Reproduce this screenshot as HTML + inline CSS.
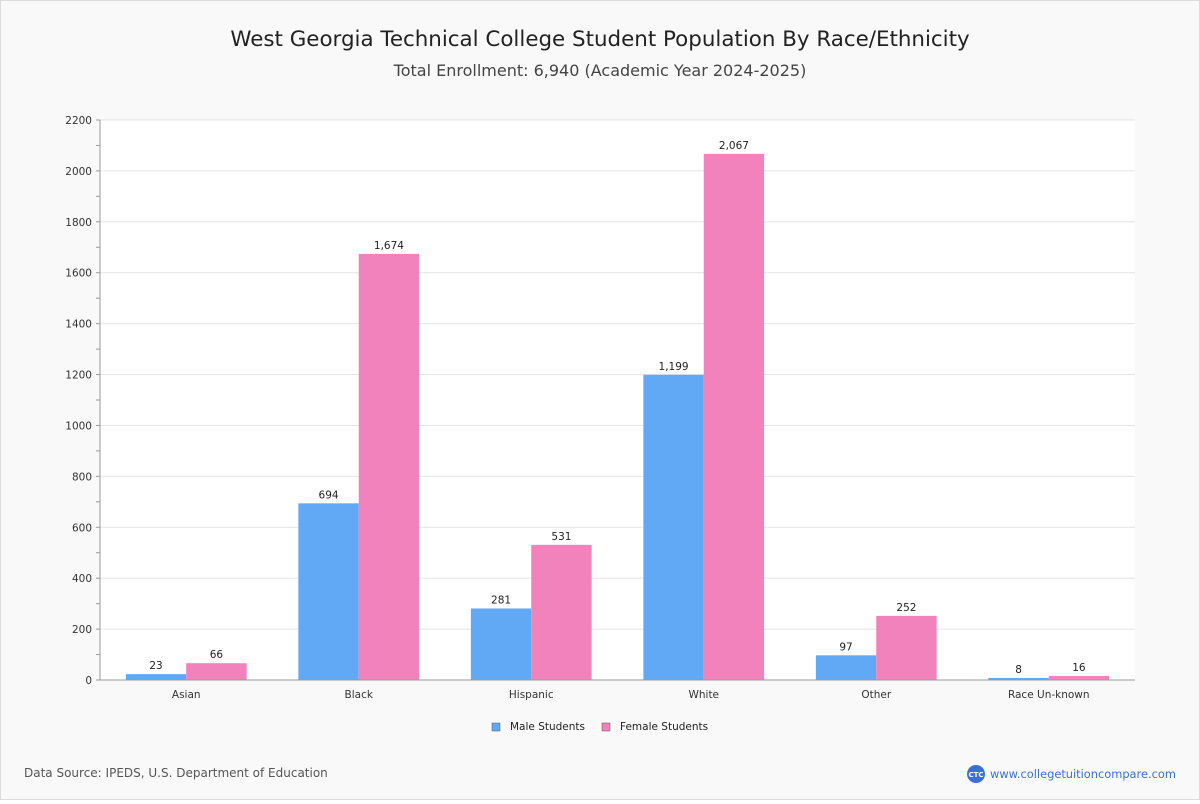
<!DOCTYPE html>
<html><head><meta charset="utf-8"><style>
body{margin:0;width:1200px;height:800px;overflow:hidden;font-family:"DejaVu Sans","Liberation Sans",sans-serif;}
</style></head><body>
<svg id="chart" width="1200" height="800" xmlns="http://www.w3.org/2000/svg">
<rect x="0.5" y="0.5" width="1199" height="799" fill="#f9f9f9" stroke="#ddd"/>
<text x="600" y="46" text-anchor="middle" font-size="21.4" fill="#222">West Georgia Technical College Student Population By Race/Ethnicity</text>
<text x="600" y="76" text-anchor="middle" font-size="16" fill="#444">Total Enrollment: 6,940 (Academic Year 2024-2025)</text>
<rect x="100" y="120" width="1035" height="560" fill="#fff"/>
<g id="grid"></g><g id="bars"></g><g id="axes"></g>
<g>
<rect x="492" y="723" width="8" height="8" fill="#62a9f5" stroke="#555" stroke-width="0.5"/>
<text x="510" y="730" font-size="10.5" fill="#222">Male Students</text>
<rect x="602" y="723" width="8" height="8" fill="#f282bc" stroke="#555" stroke-width="0.5"/>
<text x="620" y="730" font-size="10.5" fill="#222">Female Students</text>
</g>
<text x="24" y="777" font-size="12" fill="#555">Data Source: IPEDS, U.S. Department of Education</text>
<circle cx="976" cy="774" r="9" fill="#3a6fd8"/>
<text x="976" y="777" text-anchor="middle" font-size="7" fill="#fff" font-weight="bold">CTC</text>
<text x="990" y="778" font-size="11.4" fill="#3a6fd8">www.collegetuitioncompare.com</text>
</svg>
<script>
const categories=["Asian","Black","Hispanic","White","Other","Race Un-known"];
const maleValues=[23,694,281,1199,97,8];
const femaleValues=[66,1674,531,2067,252,16];
const yTicks=[0,200,400,600,800,1000,1200,1400,1600,1800,2000,2200];
const NS="http://www.w3.org/2000/svg";
const L=100,R=1135,T=120,B=680,yMax=2200;
const y=v=>B-(v/yMax)*(B-T);
const gw=(R-L)/categories.length;
const xc=i=>L+gw*(i+0.5);
const bw=gw*0.35;
function mk(parent,tag,attrs,text){const e=document.createElementNS(NS,tag);for(const k in attrs)e.setAttribute(k,attrs[k]);if(text!==undefined)e.textContent=text;document.getElementById(parent).appendChild(e);return e;}
yTicks.forEach(t=>{
 const g=mk('grid','line',{x1:L,x2:R,y1:y(t),y2:y(t),stroke:'#e4e4e4'});
 
 
 const l=mk('axes','text',{x:92,y:y(t)+4,'text-anchor':'end','font-size':10.5,fill:'#333'},t);
 
 
});
for(let v=0;v<=yMax;v+=100){const m=mk('axes','line',{x1:96,x2:100,y1:y(v),y2:y(v),stroke:'#999'});
 
 }
const ax=mk('axes','line',{x1:L,x2:L,y1:T,y2:B,stroke:'#999'});


const xa=mk('axes','line',{x1:L,x2:R,y1:B,y2:B,stroke:'#999'});


categories.forEach((c,i)=>{
 const l=mk('axes','text',{x:xc(i),y:698,'text-anchor':'middle','font-size':10.5,fill:'#333'},c);
 
 
 [[maleValues[i],'#62a9f5',xc(i)-bw,'male'],[femaleValues[i],'#f282bc',xc(i),'female']].forEach(([v,col,x,s])=>{
  const r=mk('bars','rect',{x:x,y:y(v),width:bw,height:B-y(v),fill:col});
  
  
  const t=mk('bars','text',{x:x+bw/2,y:y(v)-5,'text-anchor':'middle','font-size':10.5,fill:'#222'},v.toLocaleString('en-US'));
  
  
 });
});
</script>
</body></html>
